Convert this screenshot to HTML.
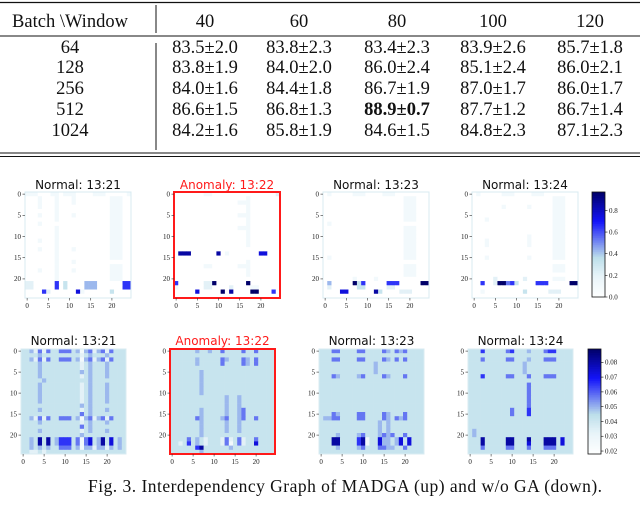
<!DOCTYPE html>
<html><head><meta charset="utf-8"><style>
html,body{margin:0;padding:0;background:#fff;width:640px;height:505px;overflow:hidden}
svg{display:block}
</style></head><body>
<svg id="fig" width="640" height="505" viewBox="0 0 640 505" xmlns="http://www.w3.org/2000/svg">
<g id="table"></g>
<g id="heat"></g>
<text x="88" y="492" font-family="Liberation Serif, serif" font-size="17.5" textLength="514" fill="#111">Fig. 3.  Interdependency Graph of MADGA (up) and w/o GA (down).</text>
</svg>
<script>
// ---- table data ----
const colHeaders = ["40","60","80","100","120"];
const rowHeaders = ["64","128","256","512","1024"];
const tableValues = [
 ["83.5±2.0","83.8±2.3","83.4±2.3","83.9±2.6","85.7±1.8"],
 ["83.8±1.9","84.0±2.0","86.0±2.4","85.1±2.4","86.0±2.1"],
 ["84.0±1.6","84.4±1.8","86.7±1.9","87.0±1.7","86.0±1.7"],
 ["86.6±1.5","86.8±1.3","88.9±0.7","87.7±1.2","86.7±1.4"],
 ["84.2±1.6","85.8±1.9","84.6±1.5","84.8±2.3","87.1±2.3"]
];
const boldCell = [3,2];

// ---- heatmap data (digits 0-9 = normalized level) ----
const titles = ["Normal: 13:21","Anomaly: 13:22","Normal: 13:23","Normal: 13:24"];
const topTicks = [0,0.2,0.4,0.6,0.8];
const botTicks = [0.02,0.03,0.04,0.05,0.06,0.07,0.08];
const topRange = [0,0.97];
const botRange = [0.018,0.089];
const axisTicks = [0,5,10,15,20];

const T1 = ["1110001101110000111000001","0001000100010000000011100","0001000100010000000011100","0001000100000000000011100","0000000100000000000011100","0001000100010000000011100","0000000100000000000011100","0001000000000000000011100","0000000100000000000011100","0000000100000000000011100","0000000100000000000011100","0001000100000000000011100","0000000100000000000011100","0001000100010000000011100","0000000100000000000011100","0000000100000000000011100","0000000100010000000000000","0000000100000000000011100","0001000100010000000011100","0000000100000000000011100","0000000100000000000011100","2200000603000044400000066","2200000603000044400000066","0000620000007100000030000","0000000000000000000000000"];
const T2 = ["0000000110000000000000002","0000000000000000010000000","0000000000000001110000000","0000000000000000010000000","0000000000000000010000000","0000000000000001110000000","0000000000000000010000000","0000000000000000010000000","0000000000000001110000000","0000000000000000010000000","0000000000000000010000000","0000000000000000010000000","0000000000000000010000000","0000000000000000000000000","0888000000801000000077000","0000000000000000000000000","0000000000000000010000000","0000000110000001110000000","0000000000000000010000000","0000000000000000010000000","0000000000000000000000000","6000000229000000090000000","1000000220000200001100000","0000070000090800009900060","0000000000000000000000000"];
const T3 = ["0100000111000011100000000","0000000000000000000111000","0000000000000000000111000","0000000000000000000111000","0000000000000000000111000","0000000000000000000111000","0000000000000000000111000","0100000000000000000000000","0000000000000000000111000","0000000000000000000111000","0000000000000000000111000","0000000000000000000111000","0000000000000000000111000","0000000000000000000111000","0000000000000000000111000","0100000000000000000111000","0000000000000000000000000","0000000000000000000111000","0000000000000000000111000","0000000000000000000111000","0000000100001000000000000","0400000936000006660000099","0200000033000002200000000","0000770000008300002220000","0000000000000000000000000"];
const T4 = ["0100000111000011100000000","0000000000000000000111000","0000000000000000000111000","0000000100000100000111000","0000000000000000000111000","0000000000000000000111000","0001000000000000000111000","0000000000000000000111000","0000000000000000000111000","0000000000000000000111000","0000000000000100000111000","0001000000000100000111000","0001000000000100000111000","0000000000000000000111000","0000000000000000000111000","0001000000000100000111000","0000000000000000000000000","0000000000000000000111000","0000000000000000000111000","0000000000000000000000000","0000020000002000000111000","0060029956300006660000099","0000000000000000000000000","0010000000003000002220000","0000000000000000000000000"];

const B1 = ["3342525335553414524525333","3333433333333323433343333","3342525335553414524525333","3333433333333323433343333","3333433333333323433343333","3333433333333343433343333","3333433333333323433343333","3333343333333333433333333","3333433333333323433343333","3333433333333323433343333","3333433333333323433343333","3333433333333323433343333","3333433333333323433343333","3333333333333343433333333","3333433333333323433343333","3333333333333353433333333","3342525335553414524525333","3333433333333323433343333","3333333333333353433333333","3333433333333323433343333","3333333333333343333333333","3343838346663515734837343","3343838346663515734837343","3343434335553414424424343","3322323333333333333333333"];
const B2 = ["3333334334335333353353333","3333333333333333333333333","3333334333335433354353333","3333334333335333354353333","3333333333333333333333333","3333333433333333333333333","3333333433333333333333333","3333333433333333333333333","3333333433333333333333333","3333333433333333333333333","3333333433333333333333333","3333333333333433433333333","3333333333333433433333333","3333333333333433433333333","3333333433333433453333333","3333333433333433453333333","3333335433334533453353333","3333333433333433433333333","3333333433333433433333333","3333333433333433433333333","3333333433333333333333333","3333534323332523523353333","3323634323332513523373333","3333336833333343333333333","3333333433333333333333333"];
const B3 = ["3335533335533335435453333","3333333333333333333333333","3335533335533335435353333","3333333333333433333333333","3333333333333433333333333","3333333333333433333333333","3335433334533335433353333","3333333333333333333333333","3333333333333333333333333","3333333333333333333333333","3333333333333333333333333","3333333333333333333333333","3333333333333333333333333","3333333333333333333333333","3333333333333333333333333","3335433335533335433353333","3445533335533335435453333","3333333333333343433333333","3333333333333343433333333","3333333333333343433333333","3333433334533345453353333","3338833336813374434737333","3338833336813374434737333","3333433334533355443353333","3333333333333333333333333"];
const B4 = ["3336333335633343335663333","3333333333333333333333333","3335333335533343335553333","3333333333333433333333333","3333333333333433333333333","3333333333333433333333333","3336333335533353335553333","3333333333333333333333333","3333333333333353333333333","3333333333333353333333333","3333333333333353333333333","3333333333333353333333333","3333333333333353333333333","3333333333333353333333333","3333333333533363333333333","3333333333533363333333333","3333333333333333333333333","3333333333333333333333333","3333333333333333333333333","3433333333333333333333333","3433333333333333333333333","3338333338833383338883733","3338333338833373338883733","3335333335533353335553333","3333333333333333333333333"];
const topMaps = [T1,T2,T3,T4];
const botMaps = [B1,B2,B3,B4];

const NS = "http://www.w3.org/2000/svg";
function mk(tag, attrs, parent){const e=document.createElementNS(NS,tag);for(const k in attrs)e.setAttribute(k,attrs[k]);parent.appendChild(e);return e;}
function cmap(t){
  const s=[[0,255,255,255],[0.2,232,244,249],[0.38,188,222,234],[0.72,20,20,250],[1,0,0,105]];
  t=Math.max(0,Math.min(1,t));
  for(let i=1;i<s.length;i++){if(t<=s[i][0]){const a=s[i-1],b=s[i],f=(t-a[0])/(b[0]-a[0]);
    return `rgb(${Math.round(a[1]+f*(b[1]-a[1]))},${Math.round(a[2]+f*(b[2]-a[2]))},${Math.round(a[3]+f*(b[3]-a[3]))})`;}}
  return "rgb(0,0,105)";
}

// ---- table ----
const tbl=document.getElementById('table');
const serif="Liberation Serif, serif";
const colX=[70,205,299,397,493,590];
const rowY=[53,73,94,115,136];
let e;
e=mk('line',{x1:0,y1:2.5,x2:640,y2:2.5,stroke:"#111","stroke-width":1.3},tbl);


e=mk('line',{x1:0,y1:36,x2:640,y2:36,stroke:"#111","stroke-width":1},tbl);


e=mk('line',{x1:0,y1:153,x2:640,y2:153,stroke:"#111","stroke-width":1},tbl);


e=mk('line',{x1:0,y1:156.5,x2:640,y2:156.5,stroke:"#111","stroke-width":1},tbl);


e=mk('line',{x1:156,y1:5,x2:156,y2:33,stroke:"#111","stroke-width":1},tbl);


e=mk('line',{x1:156,y1:43,x2:156,y2:150,stroke:"#111","stroke-width":1},tbl);


e=mk('text',{x:colX[0],y:27,"text-anchor":"middle","font-family":serif,"font-size":18.5,fill:"#111"},tbl);
e.textContent="Batch \\Window";


colHeaders.forEach((h,i)=>{
  const t=mk('text',{x:colX[i+1],y:27,"text-anchor":"middle","font-family":serif,"font-size":18.5,fill:"#111"},tbl);
  t.textContent=h;
  
  
});
rowHeaders.forEach((h,r)=>{
  const t=mk('text',{x:colX[0],y:rowY[r],"text-anchor":"middle","font-family":serif,"font-size":18.5,fill:"#111"},tbl);
  t.textContent=h;
  
  
  tableValues[r].forEach((v,c)=>{
    const b=(r===boldCell[0]&&c===boldCell[1]);
    const u=mk('text',{x:colX[c+1],y:rowY[r],"text-anchor":"middle","font-family":serif,"font-size":18.5,fill:"#111","font-weight":b?"bold":"normal"},tbl);
    u.textContent=v;
    
    
  });
});

// ---- heatmaps ----
const hg=document.getElementById('heat');
function drawPanel(data,x0,y0,size,title,titleY,anomaly,edge,name){
  const g=mk('g',{},hg);
  
  
  const n=data.length, cw=size/n;
  data.forEach((row,r)=>{
    for(let c=0;c<row.length;c++){
      const v=parseInt(row[c],10)/9;
      const rc=mk('rect',{x:x0+c*cw,y:y0+r*cw,width:cw+0.3,height:cw+0.3,fill:cmap(v)},g);
      
      
    }
  });
  const br=mk('rect',{x:x0,y:y0,width:size,height:size,fill:"none",stroke:anomaly?"#ff1a1a":edge,"stroke-width":anomaly?2:1},g);
  
  
  const tt=mk('text',{x:x0+size/2,y:titleY,"text-anchor":"middle","font-family":"DejaVu Sans, Liberation Sans, sans-serif","font-size":12,fill:anomaly?"#ff1a1a":"#111"},g);
  tt.textContent=title;
  
  
  axisTicks.forEach(k=>{
    const p=(k+0.5)*cw;
    const yl=mk('text',{x:x0-4,y:y0+p+2.3,"text-anchor":"end","font-family":serif,"font-size":7,fill:"#222"},g);
    yl.textContent=k;
    
    
    mk('line',{x1:x0-2.5,y1:y0+p,x2:x0,y2:y0+p,stroke:"#333","stroke-width":0.6},g);
    const xl=mk('text',{x:x0+p,y:y0+size+10,"text-anchor":"middle","font-family":serif,"font-size":7,fill:"#222"},g);
    xl.textContent=k;
    
    
    mk('line',{x1:x0+p,y1:y0+size,x2:x0+p,y2:y0+size+2.5,stroke:"#333","stroke-width":0.6},g);
  });
}
const topX=[25,174,323,472], botX=[21,170,319,468];
topMaps.forEach((m,i)=>drawPanel(m,topX[i],192,106,titles[i],189,i===1,"#d8ebf2",'heatmap-madga-'+(i+1)));
botMaps.forEach((m,i)=>drawPanel(m,botX[i],349,105,titles[i],345,i===1,"#d8ebf2",'heatmap-wo-ga-'+(i+1)));

function colorbar(x,y,w,h,range,ticks,fmt,name){
  const g=mk('g',{},hg);
  
  
  const steps=60;
  for(let i=0;i<steps;i++){
    const t=(i+0.5)/steps;
    mk('rect',{x:x,y:y+h-(i+1)*h/steps,width:w,height:h/steps+0.4,fill:cmap(t)},g);
  }
  mk('rect',{x:x,y:y,width:w,height:h,fill:"none",stroke:"#111","stroke-width":0.8},g);
  ticks.forEach(v=>{
    const py=y+h-(v-range[0])/(range[1]-range[0])*h;
    mk('line',{x1:x+w,y1:py,x2:x+w+2.5,y2:py,stroke:"#111","stroke-width":0.6},g);
    const l=mk('text',{x:x+w+4,y:py+2.4,"font-family":serif,"font-size":7,fill:"#222"},g);
    l.textContent=v.toFixed(fmt);
    
    
  });
}
colorbar(592,192,13,105,topRange,topTicks,1,'colorbar-madga');
colorbar(588,349,13,105,botRange,botTicks,2,'colorbar-wo-ga');
</script>
</body></html>
